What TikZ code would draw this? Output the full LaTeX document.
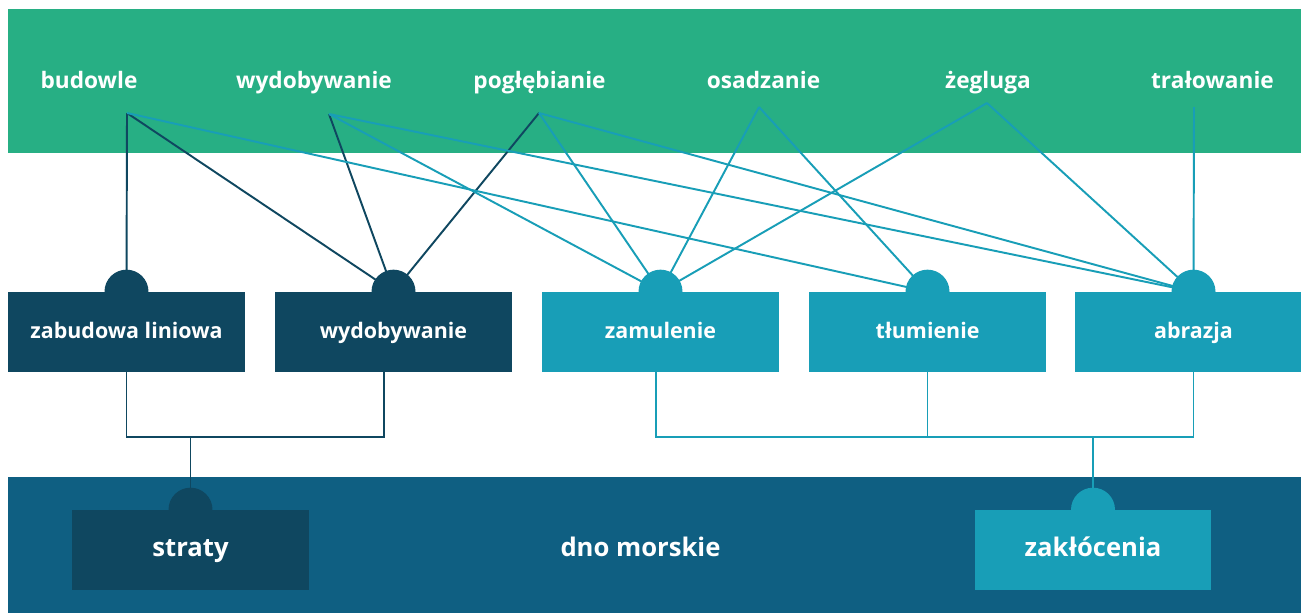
\documentclass[tikz,border=0pt]{standalone}
\usepackage{fontspec}
\setmainfont{Open Sans}
\usetikzlibrary{backgrounds}
\definecolor{seagreen}{HTML}{27AF84}
\definecolor{navydark}{HTML}{0F4760}
\definecolor{tealmid}{HTML}{189EB7}
\definecolor{seabed}{HTML}{0F5F82}

\begin{document}
\begin{tikzpicture}[x=0.02cm, y=-0.02cm,
  srclabel/.style={font=\fontsize{12.9}{15}\selectfont\bfseries, text=white, anchor=base, inner sep=0pt},
  impbox/.style={minimum width=4.74cm, minimum height=1.6cm, inner sep=0pt, text=white,
    font=\fontsize{12.2}{14}\selectfont\bfseries, text height=1em, text depth=0.22em},
  bedbox/.style={impbox, font=\fontsize{14.6}{17}\selectfont\bfseries, text height=0.98em, text depth=0.25em},
  tabdot/.style={circle, minimum size=0.88cm, inner sep=0pt},
  darklink/.style={navydark, line width=1.1pt},
  teallink/.style={tealmid, line width=1.1pt},
]
\useasboundingbox (0,0) rectangle (1301,613);
\clip (0,0) rectangle (1301,613);

% pressures (top band)
\foreach \nm/\x/\txt in {bud/89/budowle, wyd/314/wydobywanie, pog/539.5/pogłębianie,
    osa/763.5/osadzanie, zeg/988/żegluga, tra/1212.5/trałowanie}
  \node[srclabel] (\nm) at (\x,88) {\txt};
% line start points under the labels
\foreach \nm/\x/\y in {bud/127/113, wyd/329/114, pog/539/113, osa/759/107, zeg/987/103, tra/1194/107}
  \coordinate (\nm-p) at (\x,\y);

% impacts
\node[impbox, fill=navydark] (zab)  at (126.5,332)  {zabudowa liniowa};
\node[impbox, fill=navydark] (wydb) at (393.5,332)  {wydobywanie};
\node[impbox, fill=tealmid]  (zam)  at (660.5,332)  {zamulenie};
\node[impbox, fill=tealmid]  (tlu)  at (927.5,332)  {tłumienie};
\node[impbox, fill=tealmid]  (abr)  at (1193.5,332) {abrazja};

% seabed
\node[bedbox, fill=navydark] (str) at (190.5,550) {straty};
\node[bedbox, fill=tealmid]  (zak) at (1093,550)  {zakłócenia};
\node[bedbox, minimum width=0pt] (dno) at (640.5,550) {dno morskie};

\coordinate (wydb-b) at (384,372);
\coordinate (dk-j) at (190.5,437);
\coordinate (zam-b) at (656,372);
\coordinate (lt-j) at (1093,437);

\begin{scope}[on background layer]
  \fill[white] (0,0) rectangle (1301,613);
  \fill[seagreen] (8,9) rectangle (1301,153);
  \fill[seabed] (8,477) rectangle (1301,613);
  % pressure -> impact
  \draw[darklink] (bud-p) -- (zab.north);
  \draw[darklink] (bud-p) -- (wydb.north);
  \draw[darklink] (wyd-p) -- (wydb.north);
  \draw[darklink] (pog-p) -- (wydb.north);
  \foreach \s/\t in {bud/tlu, wyd/zam, wyd/abr, pog/zam, pog/abr, osa/zam, osa/tlu, zeg/zam, zeg/abr, tra/abr}
    \draw[teallink] (\s-p) -- (\t.north);
  % impact -> seabed
  \draw[darklink] (zab.south) |- (dk-j) -| (wydb-b);
  \draw[darklink] (dk-j) -- (str.north);
  \draw[teallink] (zam-b) |- (lt-j) -| (abr.south);
  \draw[teallink] (tlu.south) -- (tlu.south |- lt-j);
  \draw[teallink] (lt-j) -- (zak.north);
  % tabs
  \foreach \b/\c in {zab/navydark, wydb/navydark, zam/tealmid, tlu/tealmid, abr/tealmid, str/navydark, zak/tealmid}
    \node[tabdot, fill=\c] (\b-t) at (\b.north) {};
\end{scope}
\end{tikzpicture}
\end{document}
